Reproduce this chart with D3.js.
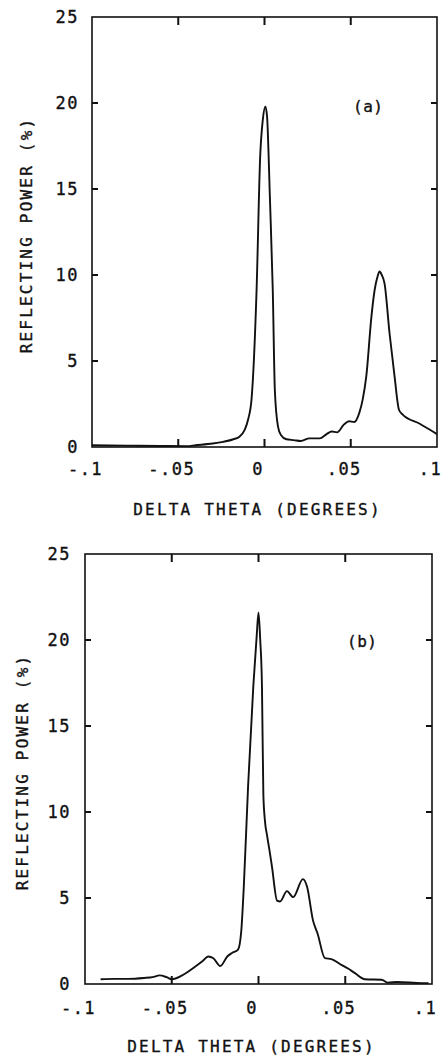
<!DOCTYPE html>
<html>
<head>
<meta charset="utf-8">
<script src="https://cdn.jsdelivr.net/npm/d3@7"></script>
<style>
  body { margin: 0; background: #fff; }
  text { font-family: "DejaVu Sans Mono", monospace; fill: #111; stroke: #111; stroke-width: 0.35px; }
</style>
</head>
<body>
<script>
// tick values and labels shared by both panels
var xTicks = [-0.1, -0.05, 0, 0.05, 0.1];
var xTickLabels = ["-.1", "-.05", "0", ".05", ".1"];
var yTicks = [0, 5, 10, 15, 20, 25];

// panel (a) curve
var thetaA = [-0.1, -0.08, -0.06, -0.045, -0.04, -0.03, -0.024, -0.018, -0.0145, -0.0115, -0.0095,
  -0.0075, -0.0046, -0.0025, -0.001, 0.0005, 0.0015, 0.0024, 0.003, 0.0048, 0.006, 0.0078, 0.0095,
  0.0127, 0.017, 0.021, 0.026, 0.032, 0.036, 0.039, 0.042, 0.046, 0.049, 0.052, 0.055, 0.057,
  0.059, 0.062, 0.0638, 0.0655, 0.0667, 0.068, 0.0696, 0.0725, 0.0754, 0.078, 0.080, 0.09, 0.1];
var powerA = [0.1, 0.08, 0.06, 0.05, 0.1, 0.2, 0.3, 0.45, 0.6, 1.0, 1.6,
  2.8, 9.1, 16.9, 19.0, 19.8, 19.2, 16.9, 14.9, 9.1, 3.3, 1.2, 0.7,
  0.45, 0.4, 0.35, 0.5, 0.5, 0.75, 0.9, 0.85, 1.3, 1.5, 1.45, 2.0, 2.8,
  4.1, 7.6, 9.1, 9.9, 10.2, 10.0, 9.5, 6.6, 4.1, 2.15, 1.9, 1.35, 0.75];

// panel (b) curve
var thetaB = [-0.091, -0.083, -0.075, -0.066, -0.061, -0.057, -0.053, -0.050, -0.044, -0.0366,
  -0.032, -0.029, -0.026, -0.022, -0.018, -0.0153, -0.0118, -0.0100, -0.0085, -0.006, -0.003,
  -0.001, 0.0, 0.001, 0.002, 0.0028, 0.0037, 0.005, 0.0066, 0.0078, 0.0107, 0.0124, 0.0164,
  0.020, 0.0256, 0.028, 0.0314, 0.034, 0.0383, 0.042, 0.048, 0.0516, 0.0556, 0.0614, 0.071,
  0.0746, 0.080, 0.094, 0.098];
var powerB = [0.28, 0.3, 0.3, 0.35, 0.4, 0.5, 0.4, 0.28, 0.5, 1.0,
  1.35, 1.6, 1.5, 1.05, 1.6, 1.8, 2.0, 3.0, 5.6, 11.5, 17.3,
  20.3, 21.6, 20.0, 17.3, 11.0, 9.5, 8.6, 7.6, 6.8, 4.85, 4.8, 5.4,
  5.05, 6.1, 5.65, 3.7, 2.95, 1.5, 1.45, 1.1, 0.9, 0.63, 0.28, 0.25,
  0.08, 0.12, 0.05, 0.05];

var svg = d3.select("body")
  .append("svg")
  .attr("width", 448)
  .attr("height", 1059);

function drawPanel(p) {
  var x = d3.scaleLinear().domain([-0.1, 0.1]).range([p.left, p.right]);
  var y = d3.scaleLinear().domain([0, 25]).range([p.bottom, p.top]);

  // frame
  svg.append("rect")
    .attr("x", p.left)
    .attr("y", p.top)
    .attr("width", p.right - p.left)
    .attr("height", p.bottom - p.top)
    .attr("fill", "none")
    .attr("stroke", "#111")
    .attr("stroke-width", 1.6);

  // inward ticks on all four sides
  var inner = xTicks.slice(1, -1);
  var innerY = yTicks.slice(1, -1);
  [p.bottom, p.top].forEach(function(edge) {
    var dir = edge === p.bottom ? -1 : 1;
    svg.append("g").selectAll("line").data(inner).enter().append("line")
      .attr("x1", function(d) { return x(d); })
      .attr("x2", function(d) { return x(d); })
      .attr("y1", edge)
      .attr("y2", edge + dir * 8)
      .attr("stroke", "#111")
      .attr("stroke-width", 2);
  });
  [p.left, p.right].forEach(function(edge) {
    var dir = edge === p.left ? 1 : -1;
    svg.append("g").selectAll("line").data(innerY).enter().append("line")
      .attr("y1", function(d) { return y(d); })
      .attr("y2", function(d) { return y(d); })
      .attr("x1", edge)
      .attr("x2", edge + dir * 6)
      .attr("stroke", "#111")
      .attr("stroke-width", 2);
  });

  // axis labels
  var bx = svg.append("g")
    .attr("transform", "translate(0," + p.bottom + ")")
    .call(d3.axisBottom(x).tickValues(xTicks)
      .tickFormat(function(d, i) { return xTickLabels[i]; })
      .tickSize(0).tickPadding(p.xPad));

  var ly = svg.append("g")
    .attr("transform", "translate(" + p.left + ",0)")
    .call(d3.axisLeft(y).tickValues(yTicks)
      .tickSize(0).tickPadding(p.yPad));

  [bx, ly].forEach(function(ax) {
    ax.select(".domain").remove();
    ax.attr("font-family", null).attr("font-size", null);
    ax.selectAll("text")
      .style("font-size", "17px")
      .style("letter-spacing", "1.5px");
  });
  bx.selectAll("text").attr("dx", -7);

  // curve
  var pts = p.theta.map(function(t, i) { return [t, p.power[i]]; });
  svg.append("path")
    .datum(pts)
    .attr("fill", "none")
    .attr("stroke", "#111")
    .attr("stroke-width", 1.9)
    .attr("stroke-linejoin", "round")
    .attr("d", d3.line()
      .x(function(d) { return x(d[0]); })
      .y(function(d) { return y(d[1]); })
      .curve(d3.curveMonotoneX));

  // panel tag
  svg.append("text")
    .attr("x", p.tagX)
    .attr("y", p.tagY)
    .style("font-size", "16px")
    .style("letter-spacing", "0.5px")
    .text(p.tag);

  // x title
  svg.append("text")
    .attr("x", (p.left + p.right) / 2 - 7)
    .attr("y", p.titleY)
    .attr("text-anchor", "middle")
    .style("font-size", "16px")
    .style("letter-spacing", "2.2px")
    .text("DELTA THETA (DEGREES)");

  // y title
  svg.append("text")
    .attr("transform", "translate(" + p.yTitleX + "," + ((p.top + p.bottom) / 2 + 3) + ") rotate(-90)")
    .attr("text-anchor", "middle")
    .style("font-size", "16px")
    .style("letter-spacing", "2.2px")
    .text("REFLECTING POWER (%)");
}

drawPanel({ left: 92, right: 437, top: 17, bottom: 447, xPad: 16, yPad: 13,
  theta: thetaA, power: powerA, tag: "(a)", tagX: 353, tagY: 112,
  titleY: 515, yTitleX: 32 });

drawPanel({ left: 85, right: 432, top: 554, bottom: 984, xPad: 18, yPad: 14,
  theta: thetaB, power: powerB, tag: "(b)", tagX: 347, tagY: 647,
  titleY: 1052, yTitleX: 28 });
</script>
</body>
</html>
